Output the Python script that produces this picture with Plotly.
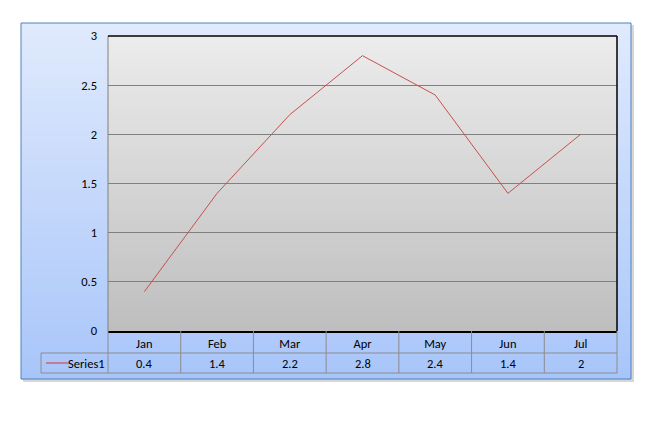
import plotly.graph_objects as go

categories = ["Jan", "Feb", "Mar", "Apr", "May", "Jun", "Jul"]
series_name = "Series1"
values = [0.4, 1.4, 2.2, 2.8, 2.4, 1.4, 2]
y_ticks = [0, 0.5, 1, 1.5, 2, 2.5, 3]

OFF = 8  # default page body margin
W, H = 658 - OFF, 424 - OFF
# plot area in page pixels
PL, PR, PT, PB = 108, 617, 36, 331


def px(x):
    return (x - PL) / (PR - PL)


def py(y):
    return (PB - y) / (PB - PT)


def lerp(c1, c2, t):
    return "rgb(%d,%d,%d)" % tuple(round(a + (b - a) * t) for a, b in zip(c1, c2))


shapes = []
# shadow of chart frame
shapes.append(dict(type="rect", xref="paper", yref="paper", x0=px(23), x1=px(634),
                   y0=py(382), y1=py(25), fillcolor="rgb(215,215,215)", line=dict(width=0), layer="below"))
# outer gradient frame
N = 60
top_c, bot_c = (224, 234, 252), (168, 197, 250)
fy0, fy1 = 23, 379
for i in range(N):
    a = fy0 + (fy1 - fy0) * i / N
    b = fy0 + (fy1 - fy0) * (i + 1) / N + 0.5
    shapes.append(dict(type="rect", xref="paper", yref="paper", x0=px(21), x1=px(631),
                       y0=py(b), y1=py(a), fillcolor=lerp(top_c, bot_c, (i + 0.5) / N),
                       line=dict(width=0), layer="below"))
shapes.append(dict(type="rect", xref="paper", yref="paper", x0=px(21), x1=px(631),
                   y0=py(379), y1=py(23), line=dict(color="#4F81BD", width=1), layer="below"))
# plot area gradient
M = 60
ptop, pbot = (236, 236, 236), (190, 190, 190)
for i in range(M):
    a = PT + (PB - PT) * i / M
    b = PT + (PB - PT) * (i + 1) / M + 0.5
    shapes.append(dict(type="rect", xref="paper", yref="paper", x0=0, x1=1,
                       y0=py(min(b, PB)), y1=py(a), fillcolor=lerp(ptop, pbot, (i + 0.5) / M),
                       line=dict(width=0), layer="below"))
# plot border: left gray, top/right black
shapes.append(dict(type="line", xref="paper", yref="paper", x0=0, x1=0, y0=0, y1=1,
                   line=dict(color="#808080", width=1)))
shapes.append(dict(type="line", xref="paper", yref="paper", x0=0, x1=1, y0=1, y1=1,
                   line=dict(color="black", width=1.5)))
shapes.append(dict(type="line", xref="paper", yref="paper", x0=1, x1=1, y0=0, y1=1,
                   line=dict(color="black", width=1.5)))

# data table grid
gc = "#8C8C8C"
r0, r1, r2 = 331, 353, 373
shapes.append(dict(type="line", xref="paper", yref="paper", x0=px(41), x1=px(617), y0=py(r1), y1=py(r1), line=dict(color=gc, width=1)))
shapes.append(dict(type="line", xref="paper", yref="paper", x0=px(41), x1=px(617), y0=py(r2), y1=py(r2), line=dict(color=gc, width=1)))
shapes.append(dict(type="line", xref="paper", yref="paper", x0=px(41), x1=px(41), y0=py(r2), y1=py(r1), line=dict(color=gc, width=1)))
for k in range(len(categories) + 1):
    x = PL + (PR - PL) * k / len(categories)
    shapes.append(dict(type="line", xref="paper", yref="paper", x0=px(x), x1=px(x),
                       y0=py(r2), y1=py(r0), line=dict(color=gc, width=1)))
# legend key line
shapes.append(dict(type="line", xref="paper", yref="paper", x0=px(46), x1=px(69),
                   y0=py(363), y1=py(363), line=dict(color="#E03030", width=1)))

font = dict(family="Carlito, Calibri, Noto Sans, sans-serif", size=12.5, color="black")

annotations = []
for c, v in zip(categories, values):
    annotations.append(dict(x=c, y=py(363), xref="x", yref="paper", text=str(v),
                            showarrow=False, font=font, xanchor="center", yanchor="middle"))
annotations.append(dict(x=px(107), y=py(363), xref="paper", yref="paper", text=series_name,
                        showarrow=False, font=font, xanchor="right", yanchor="middle"))

fig = go.Figure(go.Scatter(x=categories, y=values, mode="lines", name=series_name,
                           line=dict(color="#C8504D", width=1)))

fig.update_layout(
    width=W, height=H,
    margin=dict(l=PL - OFF, r=658 - PR, t=PT - OFF, b=424 - PB, pad=0),
    paper_bgcolor="white", plot_bgcolor="rgba(0,0,0,0)",
    showlegend=False, font=font,
    shapes=shapes, annotations=annotations,
    xaxis=dict(type="category", range=[-0.5, 6.5], showgrid=False, zeroline=False,
               showline=True, linecolor="black", linewidth=1.5, ticks="",
               tickfont=font, ticklabelstandoff=0, fixedrange=True),
    yaxis=dict(range=[0, 3], tickvals=y_ticks, ticktext=[f"{t:g}" for t in y_ticks],
               showgrid=True, gridcolor="#808080", gridwidth=1, zeroline=False,
               showline=False, ticks="", tickfont=font, ticklabelstandoff=10, fixedrange=True),
)

fig.write_html("out.html")
